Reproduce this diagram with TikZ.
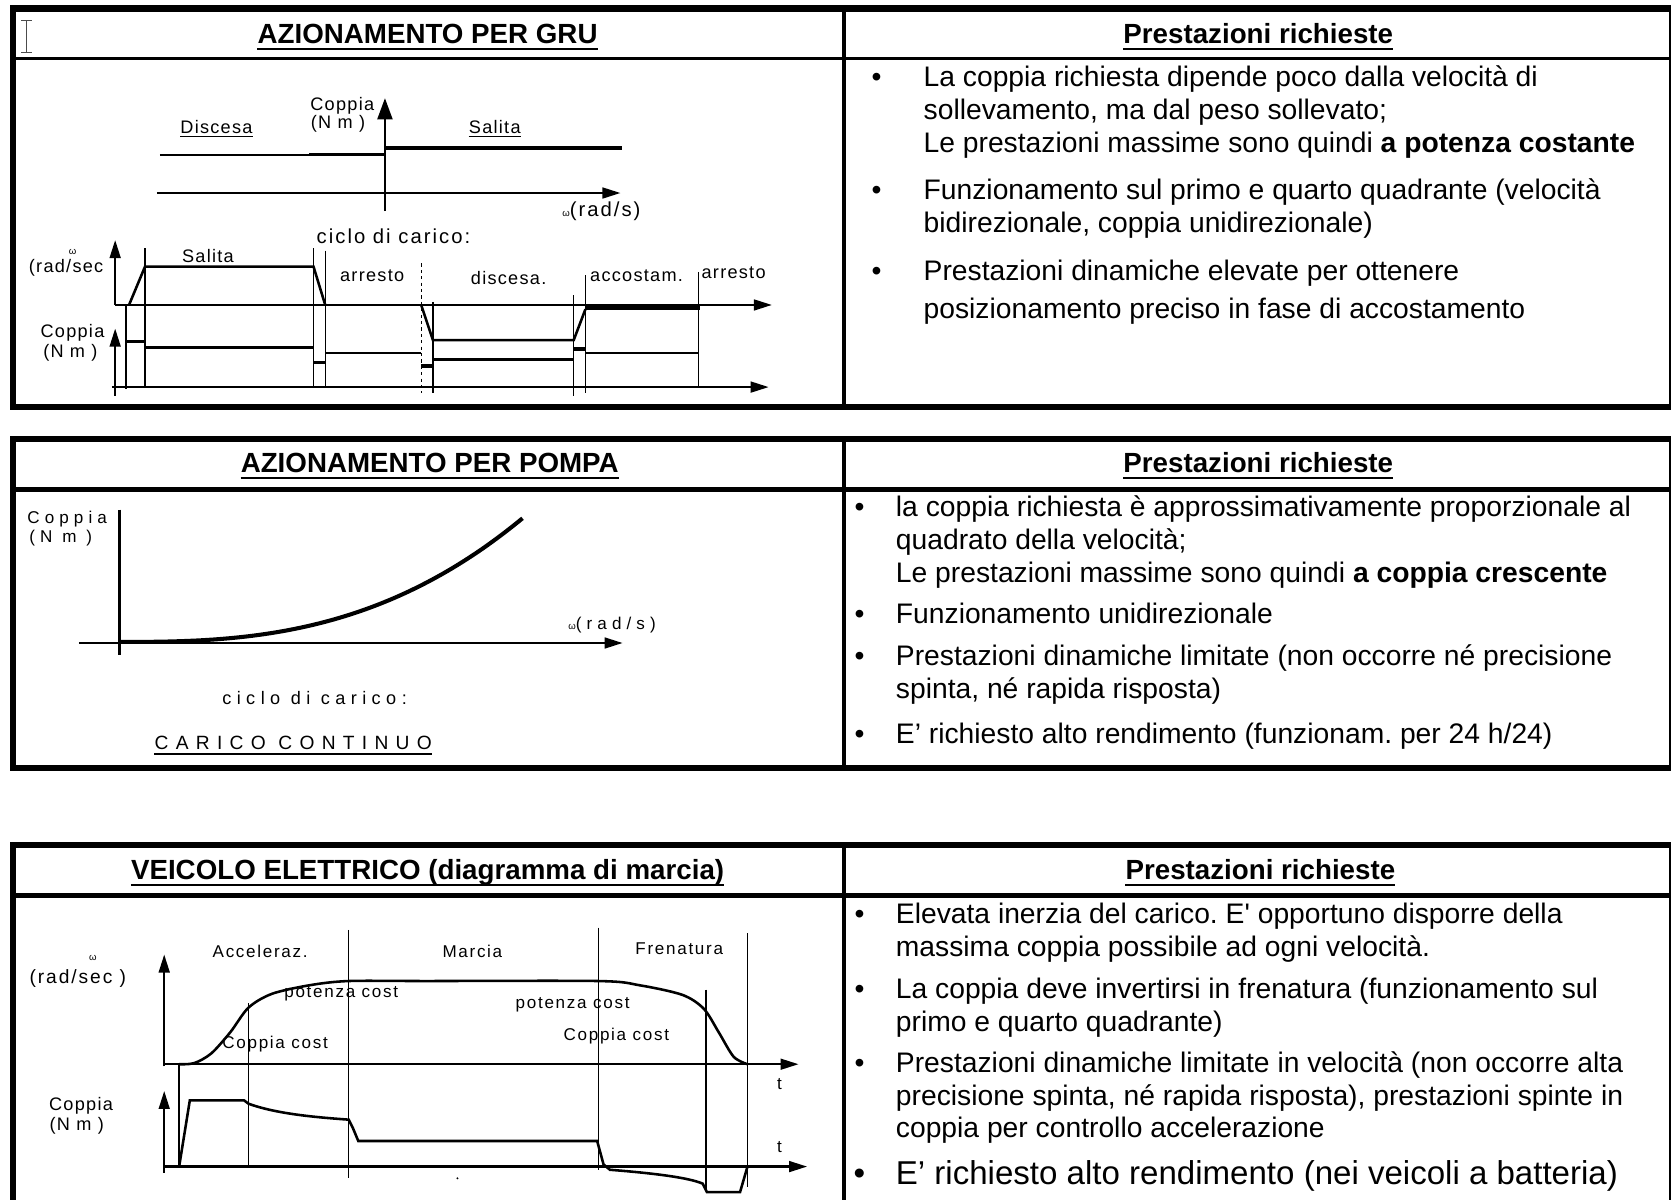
\documentclass[tikz,border=0pt]{standalone}
\usepackage{fontspec}
\setmainfont{Liberation Sans}
\newfontfamily\lab[LetterSpace=7]{Liberation Sans}
\newfontfamily\labv[LetterSpace=10]{Liberation Sans}
\newfontfamily\labw[LetterSpace=30]{Liberation Sans}
\newfontfamily\nomap[Ligatures=TeXOff]{Liberation Sans}
\usetikzlibrary{arrows.meta,calc}
\begin{document}
\frenchspacing
\begin{tikzpicture}[x=1pt,y=-1pt,
  txt/.style={inner sep=0pt, anchor=base west, font=\fontsize{26.5}{31}\selectfont},
  bul/.style={inner sep=0pt, anchor=base, font=\fontsize{26.5}{31}\selectfont},
  ttl/.style={inner sep=0pt, anchor=base, font=\fontsize{26}{31}\selectfont\bfseries},
  lb/.style={inner sep=0pt, anchor=center, font=\lab\fontsize{17}{17}\selectfont},
  lbq/.style={inner sep=0pt, anchor=center, font=\labv\fontsize{19}{19}\selectfont},
  lbv/.style={inner sep=0pt, anchor=center, font=\labv\fontsize{16}{16}\selectfont},
  lbw/.style={inner sep=0pt, anchor=center, font=\labw\fontsize{16}{16}\selectfont},
  ax/.style={line width=2.4pt},
  thinl/.style={line width=1.3pt},
  cv/.style={line width=2.4pt},
  cvb/.style={line width=3.4pt},
  tipA/.style={-{Triangle[length=17pt,width=10pt]}},
  tipB/.style={-{Triangle[length=20pt,width=14pt]}},
  ul/.style={line width=2pt}
]
\useasboundingbox (0,0) rectangle (1568,1125);
\fill[white] (0,0) rectangle (1568,1125);

% ================= Section 1 frame =================
\draw[line width=2pt] (1566,8) -- (1566,382);
\draw[line width=3.6pt] (791.5,8) -- (791.5,382);
\draw[line width=3pt] (12,55) -- (1566,55);
\draw[line width=5.8pt, line join=miter] (1567,8) -- (12,8) -- (12,382) -- (1567,382);
% cursor
\draw[line width=1.2pt, black!70] (24.8,19.5) -- (24.8,49.5) (20,19.5) -- (29.6,19.5) (20,49.5) -- (29.6,49.5);

\node[ttl] (t1) at (401,41) {AZIONAMENTO PER GRU};
\draw[ul] ($(t1.base west)+(0,5)$) -- ($(t1.base east)+(0,5)$);
\node[ttl] (p1) at (1180,41) {Prestazioni richieste};
\draw[ul] ($(p1.base west)+(0,5)$) -- ($(p1.base east)+(0,5)$);

\node[bul] (b11) at (822,81) {•};
\node[txt] (l11) at (866,81) {La coppia richiesta dipende poco dalla velocità di};
\node[txt] (l12) at (866,112) {sollevamento, ma dal peso sollevato;};
\node[txt] (l13) at (866,143) {Le prestazioni massime sono quindi \textbf{a potenza costante}};
\node[bul] (b12) at (822,187) {•};
\node[txt] (l14) at (866,187) {Funzionamento sul primo e quarto quadrante (velocità};
\node[txt] (l15) at (866,218) {bidirezionale, coppia unidirezionale)};
\node[bul] (b13) at (822,263) {•};
\node[txt] (l16) at (866,263) {Prestazioni dinamiche elevate per ottenere};
\node[txt] (l17) at (866,299) {posizionamento preciso in fase di accostamento};

% quadrant diagram
\draw[ax, tipB] (361,198) -- (361,92);
\draw[ax, tipA] (147,181) -- (582,181);
\draw[line width=2pt] (150,145) -- (361,145);
\draw[cvb] (290,145) -- (361,145);
\draw[cvb] (361,139) -- (583,139);
\node[lb] (qc) at (321,99) {Coppia};
\node[lb] (qn) at (317,116) {(N m )};
\node[lb] (qd) at (203,119) {Discesa};
\draw[line width=1.5pt] ($(qd.base west)+(0,3)$) -- ($(qd.base east)+(0,3)$);
\node[lb] (qs) at (464,119) {Salita};
\draw[line width=1.5pt] ($(qs.base west)+(0,3)$) -- ($(qs.base east)+(0,3)$);
\node[lbq] (qw) at (564,198) {{\fontsize{9}{9}\selectfont ω}(rad/s)};

% load cycle
\node[lbq] (cc1) at (369,222) {ciclo di carico:};
\draw[ax, tipA] (108,286) -- (108,225);
\draw[ax, tipA] (108,286) -- (724,286);
\draw[ax, tipA] (108,371) -- (108,308);
\draw[ax, tipA] (105,363) -- (721,363);
\node[lb] (cw) at (68,236) {{\fontsize{9}{9}\selectfont ω}};
\node[lb] (cr) at (62,251) {(rad/sec};
\node[lb] (cp) at (68,312) {Coppia};
\node[lb] (cn) at (66,331) {(N m )};
\node[lb] (cs) at (195,240) {Salita};
\node[lb] (ca1) at (349,259) {arresto};
\node[lb] (cd) at (477,261) {discesa.};
\node[lb] (cac) at (597,259) {accostam.};
\node[lb] (ca2) at (688,256) {arresto};
% omega curve
\draw[cv] (121,286) -- (136,250) -- (294,250) -- (305,286);
\draw[cv] (395,286) -- (406,319) -- (538,319) -- (549,290);
\draw[line width=4.2pt] (549,289) -- (656,289);
% torque curve
\draw[cv] (118,320) -- (136,320);
\draw[cvb] (136,326) -- (294,326);
\draw[cvb] (294,340) -- (305,340);
\draw[line width=1.8pt] (305,331) -- (395,331);
\draw[cvb] (395,343) -- (406,343);
\draw[cvb] (406,337) -- (538,337);
\draw[cvb] (538,327) -- (549,327);
\draw[line width=1.8pt] (549,331) -- (655,331);
% vertical markers
\draw[thinl] (118,286) -- (118,365);
\draw[thinl] (136,233) -- (136,363);
\draw[thinl] (294,233) -- (294,363);
\draw[thinl] (305,235) -- (305,363);
\draw[thinl, dashed] (395,247) -- (395,369);
\draw[thinl] (406,283) -- (406,369);
\draw[thinl] (538,277) -- (538,371);
\draw[thinl] (549,258) -- (549,369);
\draw[thinl] (655,255) -- (655,363);

% ================= Section 2 frame =================
\draw[line width=2pt] (1566,412) -- (1566,720);
\draw[line width=3.6pt] (791.5,412) -- (791.5,720);
\draw[line width=4.7pt] (12,459) -- (1566,459);
\draw[line width=5.8pt, line join=miter] (1567,412) -- (12,412) -- (12,720) -- (1567,720);

\node[ttl] (t2) at (403,443) {AZIONAMENTO PER POMPA};
\draw[ul] ($(t2.base west)+(0,5)$) -- ($(t2.base east)+(0,5)$);
\node[ttl] (p2) at (1180,443) {Prestazioni richieste};
\draw[ul] ($(p2.base west)+(0,5)$) -- ($(p2.base east)+(0,5)$);

\node[bul] (b21) at (806,484) {•};
\node[txt] (l21) at (840,484) {la coppia richiesta è approssimativamente proporzionale al};
\node[txt] (l22) at (840,515) {quadrato della velocità;};
\node[txt] (l23) at (840,546) {Le prestazioni massime sono quindi \textbf{a coppia crescente}};
\node[bul] (b22) at (806,585) {•};
\node[txt] (l24) at (840,585) {Funzionamento unidirezionale};
\node[bul] (b23) at (806,624) {•};
\node[txt] (l25) at (840,624) {Prestazioni dinamiche limitate (non occorre né precisione};
\node[txt] (l26) at (840,655) {spinta, né rapida risposta)};
\node[bul] (b24) at (806,697) {•};
\node[txt] (l27) at (840,697) {E’ richiesto alto rendimento (funzionam. per 24 h/24)};

% pump diagram
\draw[ax] (112,478) -- (112,614);
\draw[ax, tipA] (74,603) -- (584,603);
\draw[line width=3.8pt, domain=1:378, samples=80] plot ({112+\x},{602-116*pow(\x/378,2.7)});
\node[lbw] (pc) at (63,487) {Coppia};
\node[lbw] (pn) at (57,505) {(N m )};
\node[lbw] (pw) at (574,586) {{\fontsize{9}{9}\selectfont ω}(rad/s)};
\node[lbw, font=\labw\fontsize{17}{17}\selectfont] (pcc) at (295,655) {ciclo di carico:};
\node[lbw, font=\addfontfeature{LetterSpace=38}\fontsize{18}{18}\selectfont] (pco) at (275,697) {CARICO CONTINUO};
\draw[line width=1.5pt] ($(pco.base west)+(0,4)$) -- ($(pco.base east)+(0,4)$);

% ================= Section 3 frame =================
\draw[line width=2pt] (1566,792.5) -- (1566,1130);
\draw[line width=3.6pt] (791.5,792.5) -- (791.5,1130);
\draw[line width=4.7pt] (12,840) -- (1566,840);
\draw[line width=5.8pt, line join=miter] (1567,792.5) -- (12,792.5) -- (12,1130);

\node[ttl] (t3) at (401,825) {VEICOLO ELETTRICO (diagramma di marcia)};
\draw[ul] ($(t3.base west)+(0,5)$) -- ($(t3.base east)+(0,5)$);
\node[ttl] (p3) at (1182,825) {Prestazioni richieste};
\draw[ul] ($(p3.base west)+(0,5)$) -- ($(p3.base east)+(0,5)$);

\node[bul] (b31) at (806,866) {•};
\node[txt] (l31) at (840,866) {Elevata inerzia del carico. E{\nomap '} opportuno disporre della};
\node[txt] (l32) at (840,897) {massima coppia possibile ad ogni velocità.};
\node[bul] (b32) at (806,936) {•};
\node[txt] (l33) at (840,936) {La coppia deve invertirsi in frenatura (funzionamento sul};
\node[txt] (l34) at (840,967) {primo e quarto quadrante)};
\node[bul] (b33) at (806,1006) {•};
\node[txt] (l35) at (840,1006) {Prestazioni dinamiche limitate in velocità (non occorre alta};
\node[txt] (l36) at (840,1037) {precisione spinta, né rapida risposta), prestazioni spinte in};
\node[txt] (l37) at (840,1067) {coppia per controllo accelerazione};
\node[bul, font=\fontsize{31}{36}\selectfont] (b34) at (806,1111) {•};
\node[txt, font=\fontsize{31}{36}\selectfont] (l38) at (840,1111) {E’ richiesto alto rendimento (nei veicoli a batteria)};

% vehicle diagram
\draw[ax, tipA] (154,1000) -- (154,895);
\draw[ax, tipA] (154,998) -- (749,998);
\draw[ax, tipA] (154,1100) -- (154,1023);
\draw[ax, tipA] (154,1094) -- (757,1094);
\draw[thinl] (168,998) -- (168,1094);
\draw[thinl] (233,941) -- (233,1094);
\draw[thinl] (327,872) -- (327,1105);
\draw[thinl] (561,870) -- (561,1097);
\draw[thinl] (662,928) -- (662,1117);
\draw[thinl] (701,875) -- (701,1113);
\draw[cv] plot[smooth, tension=0.5] coordinates {(168,998) (182,997) (198,988) (216,968) (233,945) (255,932) (290,924) (327,920) (400,920) (561,920) (600,924) (640,933) (660,946) (674,968) (688,991) (701,998)};
\draw[cv] (168,1094) -- (178,1032) -- (229,1032) -- (233,1035) .. controls (260,1045) and (300,1048) .. (327,1050) -- (331,1058) -- (336,1070) -- (560,1070) -- (566,1092) -- (572,1097) .. controls (610,1100) and (645,1104) .. (659,1110) -- (663,1118) -- (694,1118) -- (701,1094);
\fill (429,1105) circle (1);
\node[lbv] (vw) at (87,898) {{\fontsize{9}{9}\selectfont ω}};
\node[lbv, font=\labv\fontsize{18}{18}\selectfont] (vr) at (73,918) {(rad/sec )};
\node[lbv, font=\lab\fontsize{17}{17}\selectfont] (vc) at (76,1037) {Coppia};
\node[lbv, font=\lab\fontsize{17}{17}\selectfont] (vn) at (72,1056) {(N m )};
\node[lbv] (va) at (244,892) {Acceleraz.};
\node[lbv] (vm) at (443,892) {Marcia};
\node[lbv] (vf) at (637,890) {Frenatura};
\node[lbv] (vp1) at (320,932) {potenza cost};
\node[lbv] (vc1) at (258,979) {Coppia cost};
\node[lbv] (vp2) at (537,942) {potenza cost};
\node[lbv] (vc2) at (578,972) {Coppia cost};
\node[lbv] (vt1) at (731,1017) {t};
\node[lbv] (vt2) at (731,1076) {t};
\end{tikzpicture}
\end{document}
